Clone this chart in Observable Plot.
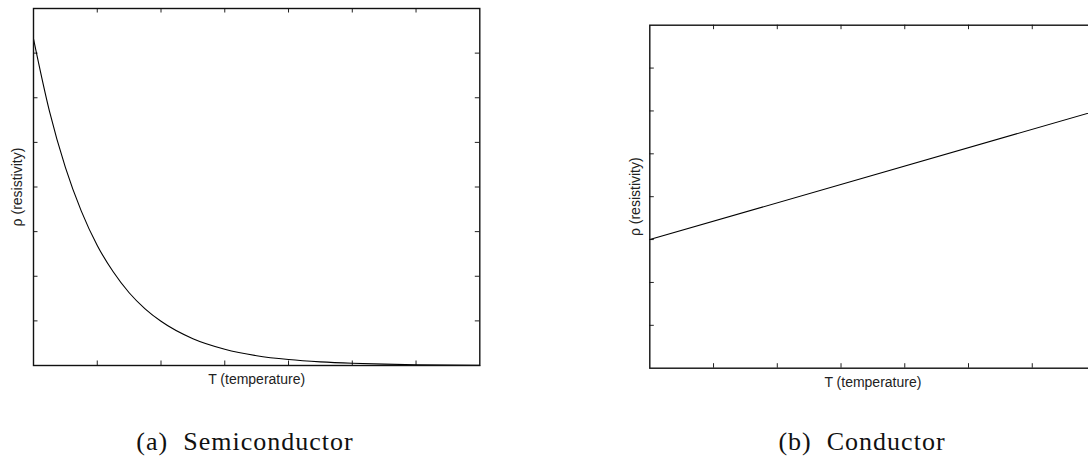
<!DOCTYPE html>
<html>
<head>
<meta charset="utf-8">
<script src="https://cdn.jsdelivr.net/npm/d3@7"></script>
<script src="https://cdn.jsdelivr.net/npm/@observablehq/plot@0.6"></script>
<style>
  html, body { margin: 0; padding: 0; background: #fff; }
  #fig { position: relative; width: 1088px; height: 463px; overflow: hidden; }
  .panel { position: absolute; top: 0; width: 560px; height: 400px; }
  .panel svg { max-width: none !important; }
  .cap {
    position: absolute; top: 427px; width: 400px; text-align: center;
    font-family: "Liberation Serif", "Times New Roman", serif;
    font-size: 26px; line-height: 30px; letter-spacing: 1px; color: #111;
    white-space: pre;
  }
</style>
</head>
<body>
<div id="fig">
  <div class="panel" id="pa" style="left:0px"></div>
  <div class="panel" id="pb" style="left:560px"></div>
  <div class="cap" style="left:45px">(a)  Semiconductor</div>
  <div class="cap" style="left:662px">(b)  Conductor</div>
</div>
<script>
// Semiconductor: resistivity falls steeply with temperature
const semiT   = [0, 0.25, 0.5, 0.75, 1, 1.25, 1.5, 1.75, 2, 2.5, 3, 3.5, 4, 4.5, 5, 5.5, 6, 6.5, 7];
const semiRho = [7.32, 5.70, 4.44, 3.46, 2.69, 2.10, 1.63, 1.27, 0.99, 0.60, 0.365, 0.22, 0.134, 0.081, 0.049, 0.03, 0.018, 0.011, 0.007];

// Conductor: resistivity rises linearly with temperature
const condT   = [0, 7];
const condRho = [3, 6];

// Tick positions (no tick labels are shown)
const xTicks = [1, 2, 3, 4, 5, 6];
const yTicks = [1, 2, 3, 4, 5, 6, 7];

const xLabel = "T (temperature)";
const yLabel = "ρ (resistivity)";

function panel(T, R, {width, height, marginLeft, marginRight, marginTop, marginBottom, labelDx}) {
  const data = T.map((t, i) => ({t, r: R[i]}));
  const innerW = width - marginLeft - marginRight;
  const innerH = height - marginTop - marginBottom;
  const tick = 4.5;
  return Plot.plot({
    width, height, marginLeft, marginRight, marginTop, marginBottom,
    x: {domain: [0, 7], axis: null},
    y: {domain: [0, 8], axis: null},
    style: {fontFamily: "'Liberation Sans', Arial, sans-serif", fontSize: "14px", color: "#222", background: "transparent"},
    marks: [
      // inward ticks on all four sides
      Plot.tickX(xTicks, {x: d => d, insetTop: innerH - tick, stroke: "#222"}),
      Plot.tickX(xTicks, {x: d => d, insetBottom: innerH - tick, stroke: "#222"}),
      Plot.tickY(yTicks, {y: d => d, insetRight: innerW - tick, stroke: "#222"}),
      Plot.tickY(yTicks, {y: d => d, insetLeft: innerW - tick, stroke: "#222"}),
      Plot.line(data, {x: "t", y: "r", curve: "monotone-x", stroke: "#000", strokeWidth: 1.1}),
      Plot.frame({stroke: "#111", strokeWidth: 1.4}),
      Plot.text([xLabel], {frameAnchor: "bottom", textAnchor: "middle", lineAnchor: "middle", dy: 14,
                           text: d => d, fill: "#222", fontSize: 14}),
      Plot.text([yLabel], {frameAnchor: "left", textAnchor: "middle", lineAnchor: "middle", dx: labelDx, rotate: -90,
                           text: d => d, fill: "#222", fontSize: 14})
    ]
  });
}

document.getElementById("pa").append(
  panel(semiT, semiRho, {width: 560, height: 400, marginLeft: 33, marginRight: 80.7, marginTop: 8, marginBottom: 35, labelDx: -15.5})
);
document.getElementById("pb").append(
  panel(condT, condRho, {width: 560, height: 400, marginLeft: 89.3, marginRight: 24.5, marginTop: 24.7, marginBottom: 32.3, labelDx: -14.5})
);
</script>
</body>
</html>
